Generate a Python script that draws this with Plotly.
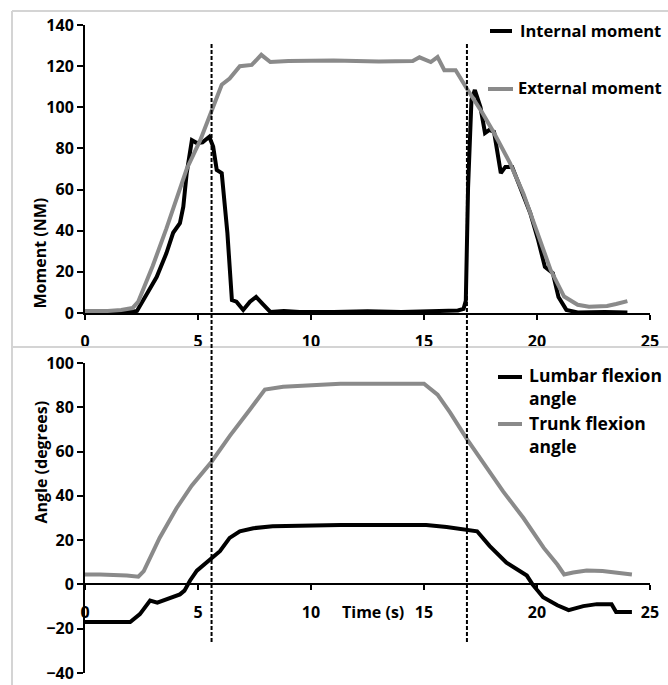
import plotly.graph_objects as go

# ---------------- data ----------------
t_int = [0, 1.0, 2.0, 2.3, 2.74, 3.17, 3.6, 3.9, 4.2, 4.35, 4.5, 4.73, 4.95, 5.2, 5.5, 5.67,
         5.83, 6.05, 6.3, 6.5, 6.7, 7.0, 7.3, 7.57, 7.9, 8.2, 8.8, 9.5, 11, 12.5, 14, 15.5,
         16.5, 16.75, 16.85, 16.95, 17.1, 17.25, 17.5, 17.7, 17.9, 18.1, 18.4, 18.6, 18.9,
         19.25, 19.7, 20.05, 20.35, 20.7, 20.95, 21.3, 21.8, 23, 24.0]
m_int = [0.5, 0.5, 0.5, 1, 9.7, 17.5, 29, 39, 43.7, 51.7, 68, 84, 82.6, 83, 85.7, 80.9,
         69.5, 68, 39, 6.3, 5.5, 1.5, 5.5, 7.8, 3.9, 0.5, 1, 0.5, 0.5, 0.8, 0.5, 0.8,
         1.2, 2, 6, 61, 103.6, 108.4, 100, 87.5, 89, 88, 68, 71, 71,
         61.3, 48.6, 35.5, 22.4, 19.4, 7.8, 1.5, 0.3, 0.5, 0.3]

t_ext = [0, 1.0, 1.6, 2.1, 2.35, 3.0, 3.6, 4.5, 5.1, 5.67, 6.05, 6.4, 6.85, 7.38, 7.8, 8.2,
         9, 11, 13, 14.5, 14.8, 15.3, 15.6, 15.9, 16.4, 16.9, 17.6, 18.1, 18.8, 19.4, 20.0,
         20.6, 21.2, 21.8, 22.3, 23.1, 23.5, 24.0]
m_ext = [1, 1, 1.5, 2.4, 5.4, 23, 41, 70, 84, 100, 111, 114, 120, 120.6, 125.5, 122,
         122.5, 122.7, 122.3, 122.5, 124.3, 122, 124.4, 118, 118, 109, 97, 87.5, 73, 58, 40,
         21, 8, 4, 3, 3.4, 4.4, 5.8]

t_lumbar = [0, 2.0, 2.43, 2.88, 3.2, 3.6, 4.2, 4.4, 4.65, 4.95, 5.6, 5.97, 6.4, 6.85, 7.45,
            8.3, 11.3, 13, 15.1, 16.0, 16.9, 17.35, 17.9, 18.65, 19.55, 19.8, 20.27, 20.9,
            21.4, 22.05, 22.65, 23.3, 23.5, 24.2]
a_lumbar = [-17, -17, -13.4, -7.3, -8.2, -6.7, -4.5, -2.8, 1.8, 6.2, 12, 15, 21, 24, 25.4,
            26.3, 26.8, 26.8, 26.8, 25.9, 24.6, 24, 17.4, 9.8, 4, 0, -5.8, -9.4,
            -11.6, -9.8, -8.9, -8.9, -12.5, -12.5]

t_trunk = [0, 0.66, 1.85, 2.36, 2.6, 3.3, 4.05, 4.72, 5.6, 6.4, 7.3, 7.96, 8.77, 11.3, 13,
           15.0, 15.6, 16.15, 16.9, 17.6, 18.5, 19.4, 20.3, 20.9, 21.2, 21.6, 22.2, 22.9,
           23.7, 24.2]
a_trunk = [4.5, 4.5, 4, 3.5, 6, 21, 34.4, 44.6, 55.4, 67, 79, 88, 89.3, 90.6, 90.6,
           90.6, 85.7, 77.7, 65.6, 55.4, 42, 30, 16.5, 9, 4.5, 5.4, 6.3, 6.1,
           4.9, 4.5]

phase_times = [5.6, 16.9]
x_ticks = [0, 5, 10, 15, 20, 25]
series_names = ["Internal moment", "External moment",
                "Lumbar flexion<br>angle", "Trunk flexion<br>angle"]

BLACK = "#000000"
GRAY = "#8a8a8a"
FONT = "Open Sans"

W, H = 668, 685


def px(x):
    return x / W


def py(y):
    return 1 - y / H


fig = go.Figure()
fig.add_trace(go.Scatter(x=t_int, y=m_int, mode="lines", name=series_names[0],
                         line=dict(color=BLACK, width=4), xaxis="x", yaxis="y"))
fig.add_trace(go.Scatter(x=t_ext, y=m_ext, mode="lines", name=series_names[1],
                         line=dict(color=GRAY, width=4), xaxis="x", yaxis="y"))
fig.add_trace(go.Scatter(x=t_lumbar, y=a_lumbar, mode="lines", name=series_names[2],
                         line=dict(color=BLACK, width=4), xaxis="x2", yaxis="y2"))
fig.add_trace(go.Scatter(x=t_trunk, y=a_trunk, mode="lines", name=series_names[3],
                         line=dict(color=GRAY, width=4), xaxis="x2", yaxis="y2"))

xdom = [px(85), px(650)]
ydom_top = [py(313), py(25)]
ydom_bot = [py(673), py(363)]
zero_pos_bot = ydom_bot[0] + (40 / 140) * (ydom_bot[1] - ydom_bot[0])

tickfont = dict(family=FONT, size=16, color=BLACK, weight="bold")
axis_common = dict(showgrid=False, zeroline=False, showline=True, linecolor=BLACK,
                   linewidth=2, ticks="outside", ticklen=5, tickwidth=2, tickcolor=BLACK,
                   tickfont=tickfont, automargin=False, ticklabeloverflow="allow")

shapes = []
frame = dict(type="line", xref="paper", yref="paper", line=dict(color="#d4d4d4", width=2))
shapes.append(dict(frame, x0=px(12), x1=1, y0=py(11), y1=py(11)))
shapes.append(dict(frame, x0=px(12), x1=px(12), y0=0, y1=py(11)))
shapes.append(dict(frame, x0=px(12), x1=1, y0=py(347), y1=py(347)))
for pt in phase_times:
    shapes.append(dict(type="line", xref="x", yref="paper", x0=pt, x1=pt,
                       y0=py(642), y1=py(42),
                       line=dict(color=BLACK, width=2, dash="4px,2px")))

# legend (sample line + label) for each series
legend_items = [
    # (name, colour, line x0, line x1, line y, text x, text centre y, font size)
    (series_names[0], BLACK, 490, 512, 31, 518, 31, 16.5),
    (series_names[1], GRAY, 488, 513, 89, 516, 88, 16.5),
    (series_names[2], BLACK, 498, 522, 377, 527, 387, 17.5),
    (series_names[3], GRAY, 498, 522, 424, 527, 434, 17.5),
]
annotations = []
for name, col, lx0, lx1, ly, tx, ty, fs in legend_items:
    shapes.append(dict(type="line", xref="paper", yref="paper", x0=px(lx0), x1=px(lx1),
                       y0=py(ly), y1=py(ly), line=dict(color=col, width=4)))
    annotations.append(dict(text=name, x=px(tx), y=py(ty), xref="paper", yref="paper",
                            xanchor="left", yanchor="middle", align="left",
                            showarrow=False,
                            font=dict(family=FONT, size=fs, color=BLACK, weight="bold")))

titlefont = dict(family=FONT, size=16, color=BLACK, weight="bold")
annotations += [
    dict(text="Moment (NM)", x=px(27), y=py(196), xref="paper", yref="paper",
         showarrow=False, textangle=-90, font=titlefont),
    dict(text="Angle (degrees)", x=px(27), y=py(526), xref="paper", yref="paper",
         showarrow=False, textangle=-90, font=titlefont),
    dict(text="Time (s)", x=px(373), y=py(625), xref="paper", yref="paper",
         showarrow=False, font=titlefont),
]

fig.update_layout(
    width=W, height=H, margin=dict(l=0, r=0, t=0, b=0, autoexpand=False),
    paper_bgcolor="white", plot_bgcolor="white", showlegend=False,
    font=dict(family=FONT, size=16, color=BLACK, weight="bold"),
    xaxis=dict(axis_common, domain=xdom, range=[0, 25], tickvals=x_ticks, anchor="y",
               ticklabelstandoff=8),
    yaxis=dict(axis_common, domain=ydom_top, range=[0, 140], dtick=20, anchor="x",
               ticklen=6),
    xaxis2=dict(axis_common, domain=xdom, range=[0, 25], tickvals=x_ticks, anchor="free",
                position=zero_pos_bot, ticklabelstandoff=8),
    yaxis2=dict(axis_common, domain=ydom_bot, range=[-40, 100], dtick=20, anchor="x2",
                ticklen=6),
    shapes=shapes,
    annotations=annotations,
)

fig.write_html("out.html")
